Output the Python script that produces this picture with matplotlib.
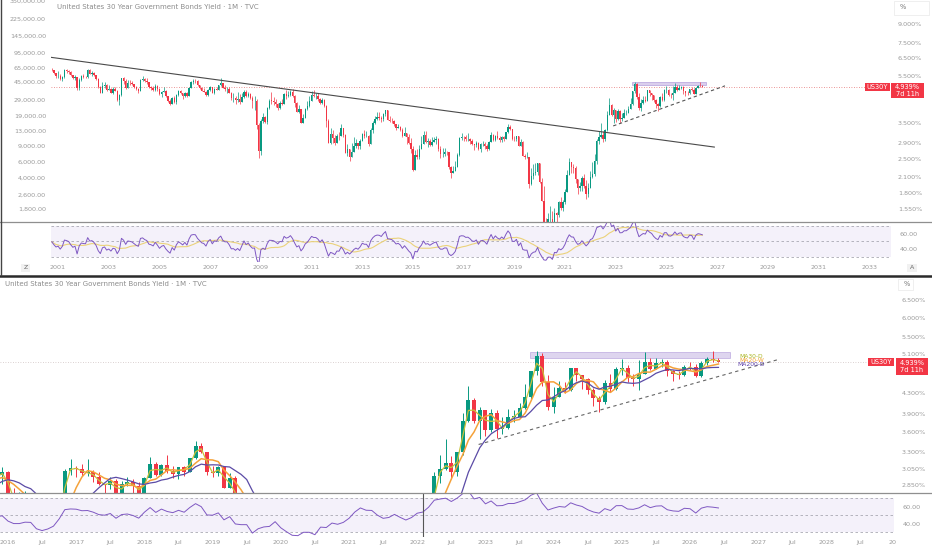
import numpy as np
import pandas as pd
import matplotlib
matplotlib.use("Agg")
import matplotlib.pyplot as plt
from matplotlib.lines import Line2D
from matplotlib.patches import Rectangle
from matplotlib.ticker import FixedLocator, FixedFormatter, NullLocator, NullFormatter

# ---------------- data (US30Y monthly, Oct 2000 .. Jun 2026) ----------------
first_month = "2000-10"
first_open = 5.80
closes = [
    5.78, 5.61, 5.46,
    5.50, 5.31, 5.44, 5.78, 5.75, 5.70, 5.52, 5.37, 5.42, 4.87, 5.29, 5.47,
    5.43, 5.42, 5.80, 5.59, 5.62, 5.51, 5.32, 4.93, 4.67, 4.99, 5.04, 4.78,
    4.84, 4.67, 4.82, 4.77, 4.37, 4.56, 5.36, 5.22, 4.88, 5.15, 5.12, 5.07,
    4.95, 4.82, 4.75, 5.29, 5.33, 5.22, 5.16, 4.92, 4.88, 4.80, 5.00, 4.83,
    4.60, 4.71, 4.75, 4.52, 4.34, 4.19, 4.46, 4.27, 4.56, 4.74, 4.65, 4.54,
    4.68, 4.51, 4.89, 5.17, 5.21, 5.20, 5.01, 4.89, 4.76, 4.72, 4.57, 4.81,
    4.92, 4.68, 4.84, 4.81, 5.01, 5.12, 4.91, 4.83, 4.83, 4.68, 4.44, 4.45,
    4.35, 4.42, 4.30, 4.49, 4.71, 4.52, 4.60, 4.43, 4.31, 4.32, 3.44, 2.68,
    3.58, 3.70, 3.55, 4.03, 4.34, 4.33, 4.30, 4.19, 4.05, 4.23, 4.20, 4.63,
    4.51, 4.57, 4.71, 4.53, 4.22, 3.91, 3.99, 3.52, 3.69, 3.99, 4.11, 4.34,
    4.58, 4.51, 4.51, 4.41, 4.22, 4.37, 4.12, 3.59, 2.91, 3.15, 3.05, 2.89,
    3.11, 3.09, 3.35, 3.12, 2.64, 2.75, 2.55, 2.67, 2.82, 2.91, 2.81, 2.95,
    3.17, 3.10, 3.10, 2.88, 3.28, 3.50, 3.64, 3.70, 3.69, 3.63, 3.82, 3.97,
    3.61, 3.59, 3.56, 3.47, 3.33, 3.36, 3.28, 3.09, 3.20, 3.06, 2.89, 2.75,
    2.25, 2.59, 2.54, 2.75, 2.88, 3.12, 2.92, 2.95, 2.85, 2.92, 2.98, 3.01,
    2.75, 2.61, 2.61, 2.66, 2.65, 2.30, 2.18, 2.23, 2.32, 2.58, 3.03, 3.07,
    3.06, 3.00, 3.01, 2.95, 2.86, 2.84, 2.90, 2.73, 2.86, 2.88, 2.83, 2.74,
    2.94, 3.13, 2.97, 3.11, 3.03, 2.99, 3.08, 3.02, 3.21, 3.39, 3.30, 3.01,
    3.00, 3.09, 2.81, 2.93, 2.57, 2.53, 2.53, 1.96, 2.12, 2.19, 2.21, 2.39,
    2.00, 1.68, 1.32, 1.28, 1.41, 1.41, 1.19, 1.49, 1.46, 1.65, 1.57, 1.65,
    1.83, 2.15, 2.41, 2.30, 2.29, 2.06, 1.89, 1.93, 2.08, 1.93, 1.79, 1.90,
    2.11, 2.17, 2.44, 2.96, 3.06, 3.14, 3.01, 3.29, 3.78, 4.16, 3.79, 3.97,
    3.63, 3.93, 3.65, 3.67, 3.86, 3.86, 4.02, 4.21, 4.73, 5.07, 4.50, 4.03,
    4.22, 4.38, 4.34, 4.79, 4.65, 4.56, 4.35, 4.20, 4.12, 4.48, 4.36, 4.78,
    4.79, 4.59, 4.57, 4.68, 4.93, 4.78, 4.90, 4.92, 4.73, 4.67, 4.65, 4.83,
    4.81, 4.62, 4.90, 4.99, 4.97, 4.939,
]
highs = [
    5.92, 5.82, 5.62,
    5.75, 5.58, 5.50, 5.84, 5.87, 5.82, 5.76, 5.55, 5.55, 5.42, 5.40, 5.55,
    5.58, 5.50, 5.85, 5.84, 5.75, 5.67, 5.55, 5.35, 4.98, 5.16, 5.18, 5.10,
    5.05, 4.90, 4.95, 4.95, 4.80, 4.62, 5.38, 5.44, 5.30, 5.28, 5.25, 5.20,
    5.10, 4.98, 4.90, 5.32, 5.48, 5.40, 5.35, 5.18, 5.00, 4.96, 5.07, 5.05,
    4.88, 4.75, 4.95, 4.78, 4.54, 4.40, 4.50, 4.55, 4.60, 4.78, 4.78, 4.63,
    4.70, 4.70, 4.93, 5.20, 5.31, 5.34, 5.25, 5.02, 4.92, 4.90, 4.76, 4.85,
    4.97, 4.93, 4.90, 4.94, 5.02, 5.37, 5.15, 5.03, 4.95, 4.92, 4.70, 4.65,
    4.55, 4.70, 4.60, 4.65, 4.78, 4.78, 4.72, 4.67, 4.52, 4.52, 4.42, 3.50,
    3.65, 3.85, 3.75, 4.10, 4.40, 4.72, 4.50, 4.40, 4.25, 4.34, 4.40, 4.65,
    4.78, 4.75, 4.78, 4.83, 4.58, 4.30, 4.15, 4.00, 3.82, 4.05, 4.31, 4.54,
    4.73, 4.80, 4.66, 4.65, 4.45, 4.43, 4.41, 4.16, 3.64, 3.34, 3.28, 3.14,
    3.15, 3.23, 3.48, 3.35, 3.15, 2.87, 2.75, 2.89, 3.06, 3.00, 2.91, 3.00,
    3.20, 3.27, 3.26, 3.12, 3.33, 3.56, 3.74, 3.88, 3.89, 3.76, 3.86, 3.97,
    3.97, 3.74, 3.68, 3.61, 3.48, 3.47, 3.40, 3.33, 3.38, 3.20, 3.17, 3.04,
    2.83, 2.71, 2.74, 2.84, 3.11, 3.25, 3.25, 3.05, 3.02, 3.07, 3.07, 3.09,
    3.03, 2.81, 2.76, 2.77, 2.69, 2.67, 2.34, 2.33, 2.45, 2.64, 3.06, 3.20,
    3.10, 3.13, 3.20, 3.04, 3.02, 2.85, 2.95, 2.92, 2.90, 2.95, 2.92, 2.88,
    2.95, 3.22, 3.15, 3.12, 3.26, 3.10, 3.09, 3.10, 3.21, 3.46, 3.43, 3.30,
    3.10, 3.10, 3.10, 3.00, 2.96, 2.62, 2.67, 2.54, 2.29, 2.37, 2.40, 2.39,
    2.40, 2.08, 1.92, 1.42, 1.49, 1.60, 1.52, 1.56, 1.51, 1.68, 1.74, 1.69,
    1.88, 2.25, 2.51, 2.38, 2.37, 2.34, 2.04, 2.00, 2.13, 2.17, 2.04, 1.99,
    2.23, 2.42, 2.61, 3.02, 3.26, 3.49, 3.24, 3.30, 3.93, 4.43, 4.20, 4.03,
    3.98, 3.99, 3.98, 3.85, 3.99, 3.97, 4.11, 4.46, 4.73, 5.18, 5.12, 4.66,
    4.40, 4.52, 4.51, 4.80, 4.77, 4.62, 4.58, 4.39, 4.23, 4.54, 4.68, 4.82,
    5.00, 4.86, 4.67, 4.98, 5.15, 5.01, 5.01, 5.00, 4.97, 4.75, 4.73, 4.86,
    4.93, 4.88, 4.95, 5.05, 5.18, 5.02,
]
lows = [
    5.72, 5.58, 5.38,
    5.38, 5.28, 5.20, 5.38, 5.63, 5.58, 5.48, 5.30, 5.25, 4.78, 4.80, 5.22,
    5.35, 5.35, 5.40, 5.58, 5.50, 5.48, 5.25, 4.90, 4.64, 4.76, 4.90, 4.75,
    4.78, 4.64, 4.60, 4.75, 4.32, 4.15, 4.55, 5.10, 4.83, 4.88, 5.05, 5.02,
    4.88, 4.80, 4.68, 4.75, 5.20, 5.18, 5.10, 4.90, 4.80, 4.75, 4.77, 4.75,
    4.56, 4.50, 4.70, 4.50, 4.28, 4.15, 4.20, 4.25, 4.20, 4.55, 4.60, 4.40,
    4.48, 4.48, 4.52, 4.90, 5.08, 5.14, 4.98, 4.86, 4.73, 4.70, 4.52, 4.55,
    4.77, 4.65, 4.62, 4.78, 4.80, 5.00, 4.91, 4.77, 4.65, 4.67, 4.35, 4.30,
    4.20, 4.30, 4.20, 4.30, 4.45, 4.50, 4.50, 4.40, 4.05, 3.95, 3.30, 2.52,
    2.60, 3.50, 3.50, 3.47, 4.00, 4.20, 4.15, 4.10, 3.97, 4.00, 4.14, 4.20,
    4.40, 4.49, 4.55, 4.50, 4.09, 3.89, 3.85, 3.50, 3.55, 3.66, 3.98, 4.08,
    4.31, 4.50, 4.41, 4.34, 4.20, 4.20, 4.08, 3.38, 2.90, 2.86, 2.89, 2.85,
    2.89, 2.97, 3.11, 3.08, 2.63, 2.57, 2.44, 2.54, 2.68, 2.76, 2.73, 2.74,
    2.95, 3.05, 3.07, 2.83, 2.87, 3.20, 3.48, 3.62, 3.61, 3.54, 3.59, 3.76,
    3.61, 3.55, 3.52, 3.41, 3.27, 3.34, 3.25, 3.08, 3.09, 2.88, 2.88, 2.63,
    2.22, 2.24, 2.48, 2.48, 2.75, 2.87, 2.91, 2.80, 2.81, 2.81, 2.95, 2.86,
    2.70, 2.51, 2.55, 2.56, 2.59, 2.26, 2.09, 2.18, 2.22, 2.32, 2.56, 2.98,
    2.95, 2.96, 2.96, 2.88, 2.85, 2.71, 2.79, 2.72, 2.66, 2.83, 2.75, 2.70,
    2.71, 2.94, 2.96, 2.96, 3.00, 2.93, 2.92, 2.96, 3.01, 3.20, 3.28, 2.97,
    2.95, 2.96, 2.81, 2.84, 2.57, 2.48, 2.51, 1.90, 1.94, 2.06, 2.15, 2.15,
    1.98, 1.68, 0.70, 1.15, 1.28, 1.30, 1.19, 1.19, 1.36, 1.43, 1.53, 1.52,
    1.63, 1.82, 2.15, 2.18, 2.19, 1.99, 1.79, 1.84, 1.84, 1.90, 1.70, 1.73,
    1.99, 2.08, 2.12, 2.38, 2.87, 3.04, 2.92, 2.96, 3.25, 3.77, 3.75, 3.50,
    3.54, 3.60, 3.51, 3.58, 3.66, 3.77, 3.85, 3.99, 4.15, 4.64, 4.42, 3.98,
    3.93, 4.21, 4.30, 4.33, 4.52, 4.37, 4.28, 4.05, 3.94, 4.08, 4.31, 4.34,
    4.65, 4.51, 4.43, 4.35, 4.69, 4.76, 4.78, 4.82, 4.62, 4.53, 4.57, 4.63,
    4.76, 4.60, 4.60, 4.87, 4.92, 4.92,
]
last_price = 4.939
price_label = "4.939%"
countdown = "7d 11h"
symbol = "US30Y"
title = "United States 30 Year Government Bonds Yield · 1M · TVC"

# drawings (time in fractional years, price in %)
desc_line_t = [2000.72, 2026.89]
desc_line_v = [6.54, 2.79]
asc_line_t = [2022.90, 2027.31]
asc_line_v = [3.41, 4.99]
zone_t = [2023.66, 2026.58]
zone_v = [5.01, 5.16]
marker_t = 2022.08

top_right_ticks = [9.0, 7.5, 6.5, 5.5, 3.5, 2.9, 2.5, 2.1, 1.8, 1.55]
top_left_ticks = [350000, 225000, 145000, 95000, 65000, 45000, 29000, 19000,
                  13000, 9000, 6000, 4000, 2600, 1800]
bot_right_ticks = [6.5, 6.0, 5.5, 5.1, 4.3, 3.9, 3.6, 3.3, 3.05, 2.85]
top_years = list(range(2001, 2034, 2))
bot_years = list(range(2016, 2029))
ma_labels = ["MA30-D", "MA20-W", "MA200-D"]
ma_windows = [2, 5, 10]
rsi_len = 14

# ---------------- derived ----------------
c = np.array(closes)
o = np.concatenate([[first_open], c[:-1]])
h = np.maximum(np.array(highs), np.maximum(o, c))
l = np.minimum(np.array(lows), np.minimum(o, c))
months = pd.period_range(first_month, periods=len(c), freq="M")
t = np.asarray(months.year + (months.month - 1) / 12.0, dtype=float)

# Wilder RSI, both averages seeded with the same level (neutral start)
d = np.diff(np.concatenate([[first_open], c]))
gain = np.clip(d, 0, None)
loss = np.clip(-d, 0, None)
seed = np.mean(np.abs(d[:rsi_len])) / 2
ag, al = seed, seed
rsi = np.empty(len(c))
for i in range(len(c)):
    ag = (ag * (rsi_len - 1) + gain[i]) / rsi_len
    al = (al * (rsi_len - 1) + loss[i]) / rsi_len
    rsi[i] = 100 - 100 / (1 + ag / al)
rsi_ma = pd.Series(rsi).rolling(rsi_len, min_periods=1).mean().values
s = pd.Series(c)
mas = [s.rolling(w).mean() for w in ma_windows]

# ---------------- styling ----------------
W, H = 932, 550
GREEN = "#089981"
RED = "#F23645"
GRAY = "#9a9a9a"
PURPLE = "#7E57C2"
FS = 4.6

fig = plt.figure(figsize=(W / 100, H / 100), dpi=100)
fig.patch.set_facecolor("white")


def rect(x0, y0, x1, y1):
    return [x0 / W, 1 - y1 / H, (x1 - x0) / W, (y1 - y0) / H]


def fx(x):
    return x / W


def fy(y):
    return 1 - y / H


def clean(ax):
    for sp in ax.spines.values():
        sp.set_visible(False)
    ax.set_facecolor("none")


def candles(ax, width, wick_lw):
    up = c >= o
    cols = np.where(up, GREEN, RED)
    ax.vlines(t, l, h, colors=cols, lw=wick_lw, zorder=2)
    bot = np.minimum(o, c)
    top = np.maximum(np.maximum(o, c), bot * 1.003)
    ax.bar(t, top - bot, width, bottom=bot, color=cols, lw=0, zorder=3, align="center")


def right_log_ticks(ax, ticks, fmt):
    ax.yaxis.tick_right()
    ax.yaxis.set_major_locator(FixedLocator(ticks))
    ax.yaxis.set_major_formatter(FixedFormatter([fmt(v) for v in ticks]))
    ax.yaxis.set_minor_locator(NullLocator())
    ax.yaxis.set_minor_formatter(NullFormatter())
    ax.tick_params(axis="y", length=0, pad=5, labelsize=FS, labelcolor=GRAY)


def rsi_pane(ax, ylim, with_ma):
    clean(ax)
    ax.set_ylim(*ylim)
    ax.axhspan(30, 70, color=PURPLE, alpha=0.08, lw=0, zorder=0)
    for v in (70, 50, 30):
        ax.axhline(v, color="#a9a9b3", lw=0.6, dashes=(3, 3), zorder=1)
    ax.plot(t, rsi, color=PURPLE, lw=0.7, zorder=3)
    if with_ma:
        ax.plot(t, rsi_ma, color="#EBD27A", lw=0.8, zorder=2)
    ax.yaxis.tick_right()
    ax.set_yticks([60, 40])
    ax.set_yticklabels(["60.00", "40.00"])
    ax.tick_params(axis="y", length=0, pad=6, labelsize=FS, labelcolor=GRAY)


# ================= TOP PANEL =================
ax1 = fig.add_axes(rect(51, 0, 891, 222))
clean(ax1)
ax1.set_yscale("log")
ax1.set_xlim(2000.72, 2033.86)
ax1.set_ylim(1.370, 11.27)
ax1.set_xticks([])
candles(ax1, 0.055, 0.5)
ax1.plot(desc_line_t, desc_line_v, color="#4a4a4a", lw=0.8, zorder=4)
ax1.plot(asc_line_t, asc_line_v, color="#555555", lw=0.8, dashes=(3, 2.5), zorder=4)
ax1.add_patch(Rectangle((zone_t[0], zone_v[0]), zone_t[1] - zone_t[0], zone_v[1] - zone_v[0],
                        facecolor="#D1C4E9", edgecolor="#B39DDB", lw=0.6, alpha=0.8, zorder=1))
ax1.axhline(last_price, color="#E57373", lw=0.6, dashes=(1, 2), zorder=1)
right_log_ticks(ax1, top_right_ticks, lambda v: f"{v:.3f}%")

# left (overlay) scale
ax1l = fig.add_axes(rect(51, 0, 891, 222))
clean(ax1l)
ax1l.patch.set_visible(False)
ax1l.set_yscale("log")
ax1l.set_ylim(1295, 359600)
ax1l.set_xticks([])
ax1l.yaxis.tick_left()
ax1l.yaxis.set_major_locator(FixedLocator(top_left_ticks))
ax1l.yaxis.set_major_formatter(FixedFormatter([f"{v:,.2f}" for v in top_left_ticks]))
ax1l.yaxis.set_minor_locator(NullLocator())
ax1l.yaxis.set_minor_formatter(NullFormatter())
ax1l.tick_params(axis="y", length=0, pad=3.6, labelsize=FS, labelcolor=GRAY)

ax2 = fig.add_axes(rect(51, 222, 891, 262))
rsi_pane(ax2, (23.7, 75.0), True)
ax2.set_xlim(2000.72, 2033.86)
ax2.set_xticks(top_years)
ax2.set_xticklabels([str(y) for y in top_years])
ax2.tick_params(axis="x", length=0, pad=2.2, labelsize=FS, labelcolor=GRAY)

fig.text(fx(57), fy(7.3), title, fontsize=5, color="#8c8c8c", va="center", ha="left")

# ================= BOTTOM PANEL =================
ax3 = fig.add_axes(rect(0, 276, 894, 493.3))
clean(ax3)
ax3.set_yscale("log")
ax3.set_xlim(2015.883, 2028.99)
ax3.set_ylim(2.742, 7.235)
ax3.set_xticks([])
candles(ax3, 0.058, 0.7)
ma_colors = ["#C9C23A", "#F5A23A", "#5B4BA6"]
for ma, col, lw in zip(mas, ma_colors, [0.9, 1.1, 0.9]):
    ax3.plot(t, ma, color=col, lw=lw, zorder=4)
ax3.plot(asc_line_t, asc_line_v, color="#666666", lw=0.8, dashes=(3, 3), zorder=4)
ax3.add_patch(Rectangle((zone_t[0], zone_v[0]), zone_t[1] - zone_t[0], zone_v[1] - zone_v[0],
                        facecolor="#D1C4E9", edgecolor="#B39DDB", lw=0.6, alpha=0.7, zorder=1))
ax3.axhline(last_price, color="#cfc2c2", lw=0.6, dashes=(1, 2), zorder=1)
right_log_ticks(ax3, bot_right_ticks, lambda v: f"{v:.3f}%")
ax3.tick_params(axis="y", pad=5.5)

ax4 = fig.add_axes(rect(0, 493.3, 894, 537))
rsi_pane(ax4, (24.35, 75.8), False)
ax4.set_xlim(2015.883, 2028.99)
ax4.axvline(marker_t, color="#555555", lw=0.8, zorder=4)
bt, bl = [], []
for y in bot_years:
    bt += [y, y + 0.5]
    bl += [str(y), "Jul"]
ax4.set_xticks(bt)
ax4.set_xticklabels(bl)
ax4.tick_params(axis="x", length=0, pad=2.2, labelsize=FS, labelcolor=GRAY)
fig.text(fx(889), fy(542.7), "20", fontsize=FS, color=GRAY, va="center", ha="left")

fig.text(fx(5), fy(284), title, fontsize=5, color="#8c8c8c", va="center", ha="left")

# MA labels
for lab, col, yy, xx in zip(ma_labels, ["#A9B420", "#F0A030", "#5B3FA8"],
                            [356.7, 360.5, 364.2], [739, 739, 737.5]):
    fig.text(fx(xx), fy(yy), lab, fontsize=4.3, color=col, va="center", ha="left")

# ================= frame lines & labels =================
def fline(x0, y0, x1, y1, **kw):
    fig.add_artist(Line2D([fx(x0), fx(x1)], [fy(y0), fy(y1)], transform=fig.transFigure, **kw))


fline(0, 222, W, 222, color="#8f8f8f", lw=0.9)
fline(0, 493.3, W, 493.3, color="#8f8f8f", lw=0.9)
fline(0, 275.6, W, 275.6, color="#2a2a2a", lw=1.8)
fline(0.7, 0, 0.7, 275, color="#444444", lw=1.0)


def fbox(x0, y0, x1, y1, fc, ec="none", lw=0):
    fig.add_artist(Rectangle((fx(x0), fy(y1)), (x1 - x0) / W, (y1 - y0) / H,
                             transform=fig.transFigure, facecolor=fc, edgecolor=ec, lw=lw, zorder=5))


def price_labels(sx0, sx1, px0, px1, y0, y1, y2):
    fbox(sx0, y0, sx1, y1, RED)
    fig.text(fx((sx0 + sx1) / 2), fy((y0 + y1) / 2), symbol, fontsize=4.8, color="white",
             ha="center", va="center", zorder=6)
    fbox(px0, y0, px1, y2, RED)
    fig.text(fx((px0 + px1) / 2), fy(y0 + (y2 - y0) * 0.27), price_label, fontsize=4.8,
             color="white", ha="center", va="center", zorder=6)
    fig.text(fx((px0 + px1) / 2), fy(y0 + (y2 - y0) * 0.74), countdown, fontsize=4.8,
             color="white", ha="center", va="center", zorder=6)


price_labels(864.7, 890.3, 891.3, 923.7, 83.3, 90.9, 98.3)
price_labels(868.0, 893.5, 895.5, 928.0, 358.3, 366.0, 374.5)

# small scale buttons
fbox(894, 1, 929, 14.5, "none", "#ececec", 0.6)
fig.text(fx(903), fy(7.3), "%", fontsize=4.8, color="#777777", ha="center", va="center", zorder=6)
fbox(897.5, 279, 913, 290, "none", "#ececec", 0.6)
fig.text(fx(906.7), fy(284.3), "%", fontsize=4.8, color="#777777", ha="center", va="center", zorder=6)
fbox(21, 263.5, 30, 272, "#f1f1f1")
fig.text(fx(25.5), fy(267.7), "Z", fontsize=4.5, color="#666666", ha="center", va="center", zorder=6)
fbox(907, 263.5, 917, 272, "#f1f1f1")
fig.text(fx(912), fy(267.7), "A", fontsize=4.5, color="#666666", ha="center", va="center", zorder=6)

fig.savefig("out.png", dpi=100, facecolor="white")
